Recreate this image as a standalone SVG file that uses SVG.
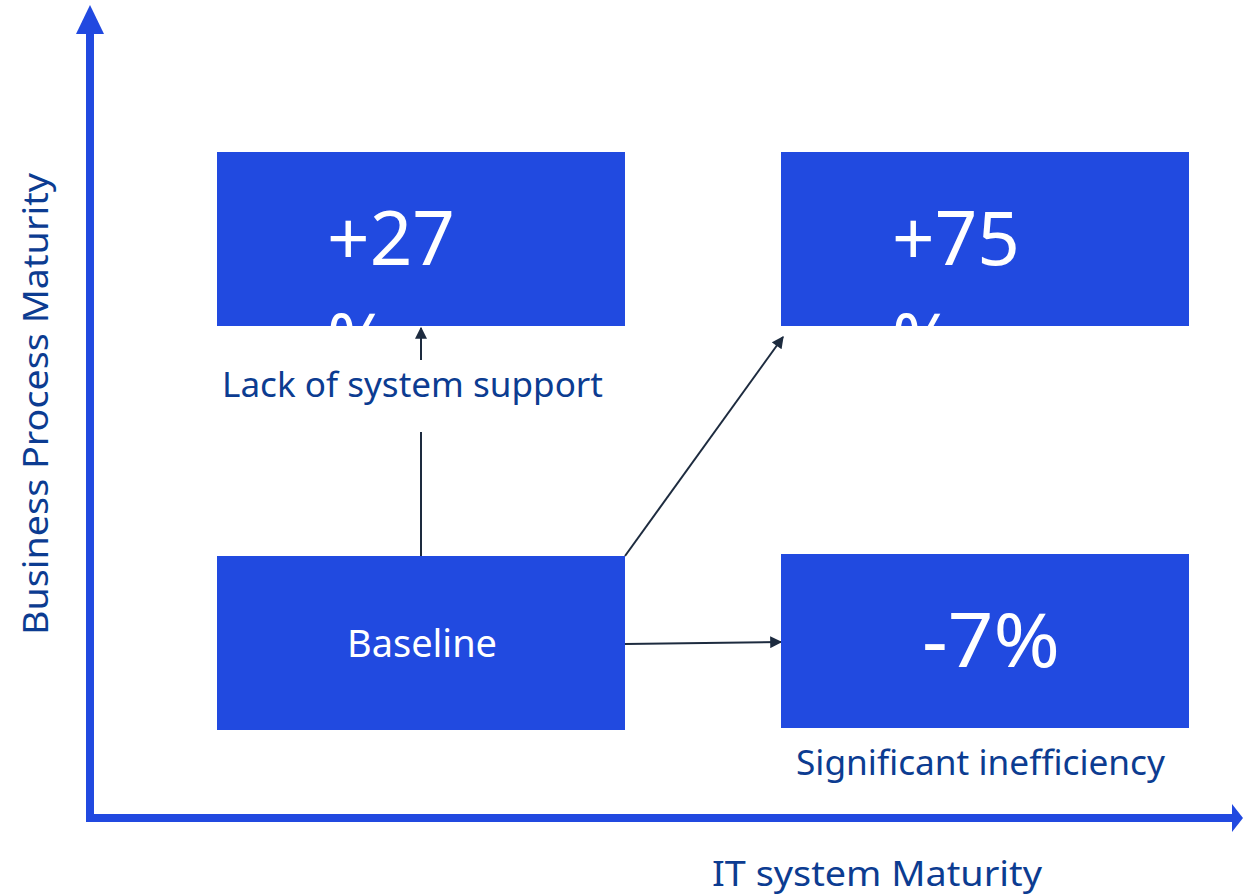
<svg xmlns="http://www.w3.org/2000/svg" width="1243" height="894" viewBox="0 0 1243 894">
  <defs>
    <style>
      .box { fill: #214ae0; }
      .big { font-family: "Noto Sans", "Liberation Sans", sans-serif; font-size: 74px; fill: #ffffff; }
      .mid { font-family: "Noto Sans", "Liberation Sans", sans-serif; font-size: 38px; fill: #ffffff; }
      .lbl { font-family: "Noto Sans", "Liberation Sans", sans-serif; font-size: 35px; fill: #0c3c91; }
      .axis { stroke: #2149e0; stroke-width: 8; fill: none; }
      .link { stroke: #1d2b3f; stroke-width: 2; fill: none; }
    </style>
    <marker id="arr" viewBox="0 0 10 10" refX="9" refY="5" markerWidth="13" markerHeight="12" markerUnits="userSpaceOnUse" orient="auto">
      <path d="M0,0 L10,5 L0,10 z" fill="#1d2b3f"/>
    </marker>
    <!-- box interiors: overflowing value text is hidden past the box edge -->
    <clipPath id="clip-support"><rect x="217" y="152" width="408" height="174"/></clipPath>
    <clipPath id="clip-both"><rect x="781" y="152" width="408" height="174"/></clipPath>
  </defs>

  <!-- axes -->
  <g id="axes">
    <path class="axis" d="M90,818 V30"/>
    <path d="M76,34 L90,5 L104,34 z" fill="#2149e0"/>
    <path class="axis" d="M86,818 H1236"/>
    <path d="M1232,804 L1243,818 L1232,832 z" fill="#2149e0"/>
    <text class="lbl" x="712" y="886" textLength="330" lengthAdjust="spacingAndGlyphs">IT system Maturity</text>
    <text class="lbl" transform="translate(48,635) rotate(-90)" textLength="462" lengthAdjust="spacingAndGlyphs">Business Process Maturity</text>
  </g>

  <!-- connectors -->
  <g id="connectors">
    <path class="link" d="M421,556 V432"/>
    <path class="link" d="M421,360 V328" marker-end="url(#arr)"/>
    <path class="link" d="M625,556 L783,337" marker-end="url(#arr)"/>
    <path class="link" d="M625,644 L781,642" marker-end="url(#arr)"/>
  </g>

  <g id="node-support">
    <rect class="box" x="217" y="152" width="408" height="174"/>
    <g clip-path="url(#clip-support)">
      <text class="big" x="327" y="265" textLength="128" lengthAdjust="spacingAndGlyphs">+27</text>
      <text class="big" x="327" y="367">%</text>
    </g>
    <text class="lbl" x="222" y="397" textLength="381" lengthAdjust="spacingAndGlyphs">Lack of system support</text>
  </g>

  <g id="node-both">
    <rect class="box" x="781" y="152" width="408" height="174"/>
    <g clip-path="url(#clip-both)">
      <text class="big" x="892" y="265" textLength="128" lengthAdjust="spacingAndGlyphs">+75</text>
      <text class="big" x="892" y="367">%</text>
    </g>
  </g>

  <g id="node-baseline">
    <rect class="box" x="217" y="556" width="408" height="174"/>
    <text class="mid" x="347" y="657" textLength="150" lengthAdjust="spacingAndGlyphs">Baseline</text>
  </g>

  <g id="node-inefficiency">
    <rect class="box" x="781" y="554" width="408" height="174"/>
    <text class="big" x="922" y="667" textLength="138" lengthAdjust="spacingAndGlyphs">-7%</text>
    <text class="lbl" x="796" y="775" textLength="369" lengthAdjust="spacingAndGlyphs">Significant inefficiency</text>
  </g>
</svg>
